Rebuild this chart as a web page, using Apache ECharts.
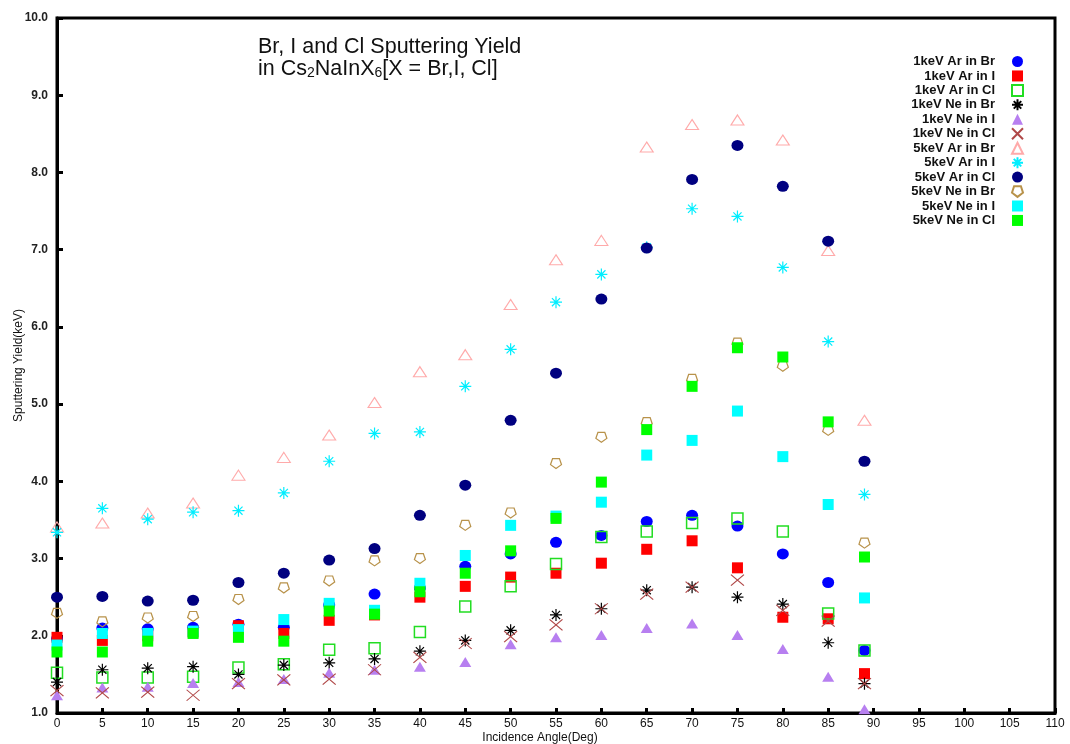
<!DOCTYPE html>
<html>
<head>
<meta charset="utf-8">
<script src="https://cdn.jsdelivr.net/npm/echarts@6/dist/echarts.min.js"></script>
<style>
html,body{margin:0;padding:0;background:#fff;}
#chart{width:1070px;height:744px;}
</style>
</head>
<body>
<div id="chart"></div>
<script>
// ---- data ----
const angles = [0,5,10,15,20,25,30,35,40,45,50,55,60,65,70,75,80,85,89];
const ar1Br = [1.96,2.10,2.09,2.11,2.15,2.11,2.40,2.54,2.62,2.90,3.06,3.21,3.30,3.48,3.56,3.42,3.06,2.69,1.81];
const ar1I  = [1.98,1.94,2.00,2.05,2.13,2.03,2.20,2.27,2.50,2.64,2.76,2.81,2.94,3.12,3.23,2.88,2.24,2.22,1.51];
const ar1Cl = [1.52,1.46,1.46,1.47,1.59,1.63,1.82,1.84,2.05,2.38,2.64,2.93,3.28,3.35,3.46,3.52,3.35,2.29,1.81];
const ne1Br = [1.40,1.56,1.58,1.60,1.50,1.62,1.65,1.70,1.80,1.94,2.07,2.27,2.35,2.59,2.63,2.50,2.41,1.91,1.38];
const ne1I  = [1.23,1.33,1.34,1.39,1.40,1.44,1.52,1.56,1.60,1.66,1.89,1.98,2.01,2.10,2.16,2.01,1.83,1.47,1.05];
const ne1Cl = [1.29,1.26,1.27,1.23,1.38,1.43,1.44,1.56,1.72,1.90,1.99,2.14,2.35,2.54,2.63,2.72,2.33,2.19,1.38];
const ar5Br = [3.41,3.46,3.59,3.72,4.08,4.31,4.60,5.02,5.42,5.64,6.29,6.87,7.12,8.33,8.62,8.68,8.42,6.99,4.79];
const ar5I  = [3.34,3.65,3.51,3.60,3.62,3.85,4.26,4.62,4.64,5.23,5.71,6.32,6.68,7.03,7.53,7.43,6.77,5.81,3.83];
const ar5Cl = [2.50,2.51,2.45,2.46,2.69,2.81,2.98,3.13,3.56,3.95,4.79,5.40,6.36,7.02,7.91,8.35,7.82,7.11,4.26];
const ne5Br = [2.29,2.18,2.23,2.25,2.47,2.62,2.71,2.97,3.00,3.43,3.59,4.23,4.57,4.76,5.32,5.79,5.49,4.66,3.20];
const ne5I  = [1.88,2.03,2.03,2.06,2.08,2.21,2.42,2.33,2.68,3.04,3.43,3.55,3.73,4.34,4.53,4.91,4.32,3.70,2.49];
const ne5Cl = [1.79,1.79,1.93,2.03,1.98,1.93,2.32,2.28,2.57,2.81,3.10,3.52,3.99,4.67,5.23,5.73,5.61,4.77,3.02];
const seriesNames = ['1keV Ar in Br','1keV Ar in I','1keV Ar in Cl','1keV Ne in Br','1keV Ne in I','1keV Ne in Cl',
  '5keV Ar in Br','5keV Ar in I','5keV Ar in Cl','5keV Ne in Br','5keV Ne in I','5keV Ne in Cl'];
const titleLine1 = 'Br, I and Cl Sputtering Yield';
const xName = 'Incidence Angle(Deg)';
const yName = 'Sputtering Yield(keV)';

// ---- styles ----
const STAR = 'path://M5,0L5,10M0,5L10,5M1.6,1.6L8.4,8.4M8.4,1.6L1.6,8.4';
const CROSS = 'path://M0,0L10,10M10,0L0,10';
const PENT = 'path://M19,0L81,0L100,59L50,97L0,59Z';
const T = 'rgba(0,0,0,0)';
const FONT = 'Liberation Sans, Arial, sans-serif';
const styles = [
  {symbol:'circle', size:[12,11], item:{color:'#0000ff'}},
  {symbol:'rect', size:[11,11], item:{color:'#ff0000'}},
  {symbol:'rect', size:[11,11], item:{color:T, borderColor:'#22dd22', borderWidth:1.5}},
  {symbol:STAR, size:[12,12], item:{color:T, borderColor:'#000000', borderWidth:1.2}},
  {symbol:'triangle', size:[12,10], item:{color:'#b77ff0'}},
  {symbol:CROSS, size:[13,11], item:{color:T, borderColor:'#b04848', borderWidth:1.1}},
  {symbol:'triangle', size:[13,10], item:{color:T, borderColor:'#ffaaaa', borderWidth:1.1}},
  {symbol:STAR, size:[12,12], item:{color:T, borderColor:'#00eeff', borderWidth:1.2}},
  {symbol:'circle', size:[12,11], item:{color:'#000080'}},
  {symbol:PENT, size:[11,10], item:{color:T, borderColor:'#b8924a', borderWidth:1.2}},
  {symbol:'rect', size:[11,11], item:{color:'#00ffff'}},
  {symbol:'rect', size:[11,11], item:{color:'#00ff00'}}
];
const allData = [ar1Br, ar1I, ar1Cl, ne1Br, ne1I, ne1Cl, ar5Br, ar5I, ar5Cl, ne5Br, ne5I, ne5Cl];

const series = allData.map((vals, i) => ({
  name: seriesNames[i],
  type: 'scatter',
  symbol: styles[i].symbol,
  symbolSize: styles[i].size,
  itemStyle: Object.assign({opacity:1}, styles[i].item),
  data: angles.map((a, j) => [a, vals[j]]),
  z: 2 + i
}));

const chart = echarts.init(document.getElementById('chart'), null, {renderer:'canvas'});
chart.setOption({
  backgroundColor: '#ffffff',
  animation: false,
  title: {
    text: titleLine1 + '\nin Cs{sub|2}NaInX{sub|6}[X = Br,I, Cl]',
    left: 253, top: 31,
    textStyle: {
      fontFamily: FONT,
      fontSize: 21.5, fontWeight: 'normal', color: '#111', lineHeight: 22,
      rich: {
        sub: {fontSize: 14, lineHeight: 13, verticalAlign: 'bottom', fontFamily: FONT, color:'#111'}
      }
    }
  },
  legend: {
    orient: 'vertical',
    align: 'right',
    right: 41, top: 50,
    itemWidth: 11, itemHeight: 11, itemGap: 1.45,
    data: seriesNames,
    textStyle: {
      fontFamily: FONT,
      fontSize: 13, fontWeight: 'bold', color: '#111', lineHeight: 11,
      padding: [0, 12, 0, 0]
    }
  },
  grid: {
    left: 57, right: 15, top: 18, bottom: 31,
    containLabel: false, outerBoundsMode: 'none',
    show: true, borderColor: '#000', borderWidth: 3, backgroundColor: 'transparent'
  },
  xAxis: {
    type: 'value', min: 0, max: 110, interval: 5,
    name: xName, nameLocation: 'middle', nameGap: 19, nameMoveOverlap: false,
    nameTextStyle: {fontFamily: FONT, fontSize: 12, color:'#111', padding:[0,32,0,0]},
    axisLine: {show:true, onZero:false, lineStyle:{color:'#000', width:3}},
    axisTick: {show:true, inside:true, length:5, lineStyle:{color:'#000', width:3}},
    axisLabel: {fontFamily: FONT, fontSize: 12, color:'#111', margin: 5, showMinLabel:true, showMaxLabel:true},
    splitLine: {show:false}
  },
  yAxis: {
    type: 'value', min: 1, max: 10, interval: 1,
    name: yName, nameLocation: 'middle', nameGap: 32, nameRotate: 90, nameMoveOverlap: false,
    nameTextStyle: {fontFamily: 'Liberation Sans Narrow, Liberation Sans, Arial, sans-serif', fontSize: 12, color:'#111'},
    axisLine: {show:true, onZero:false, lineStyle:{color:'#000', width:3}},
    axisTick: {show:true, inside:true, length:6, lineStyle:{color:'#000', width:3}},
    axisLabel: {fontFamily: FONT, fontSize: 12, fontWeight:'bold', color:'#222', margin: 9,
      formatter: v => v.toFixed(1), showMinLabel:true, showMaxLabel:true},
    splitLine: {show:false}
  },
  series: series
});
</script>
</body>
</html>
